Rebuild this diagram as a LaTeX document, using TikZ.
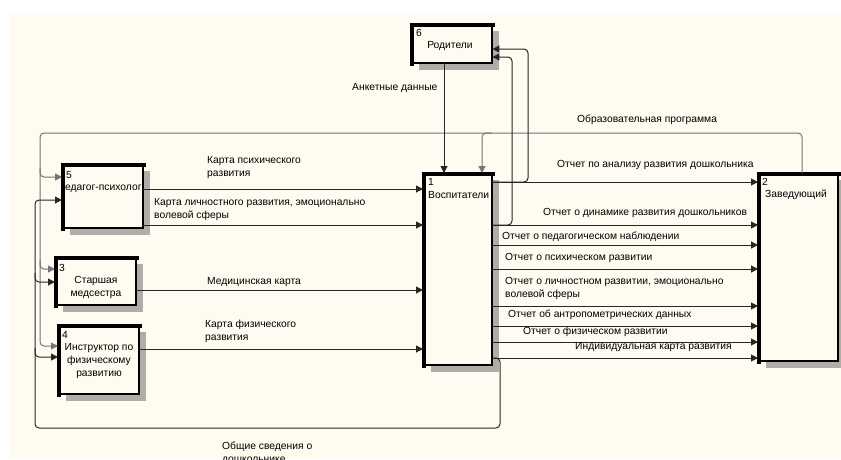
\documentclass[tikz,border=0pt]{standalone}
\usepackage{fontspec}
\setmainfont{Liberation Sans}
\usetikzlibrary{arrows.meta,calc}
\definecolor{bg}{RGB}{255,251,240}
\definecolor{shd}{RGB}{175,173,167}
\tikzset{
  boxnode/.style={draw=none, fill=bg, anchor=north west, inner sep=0pt},
  thinb/.style={draw=black, line width=2pt},
  thickb/.style={draw=black, line width=4.5pt, line cap=rect},
  ln/.style={draw=black!85, line width=1pt},
  arr/.style={ln, -{Triangle[length=7pt,width=7pt]}},
  garr/.style={draw=black!55, line width=1pt, -{Triangle[length=7pt,width=7pt]}},
  lbl/.style={anchor=west, inner sep=0pt, align=left},
  ctr/.style={anchor=center, inner sep=0pt, align=center},
}
\newcommand{\mybox}[5]{% name, x, y, w, h
  \fill[shd] ($(#2,#3)+(8,7)$) rectangle ($(#2,#3)+(#4+7,#5+7)$);
  \node[boxnode, minimum width=#4pt, minimum height=#5pt] (#1) at (#2,#3) {};
  \draw[thinb] (#1.south west) rectangle (#1.north east);
  \draw[thickb] ($(#1.south west)+(1,0)$) -- ($(#1.north west)+(1,1)$) -- ($(#1.north east)+(0,1)$);
}
\begin{document}
\begin{tikzpicture}[x=1pt,y=-1pt,font=\fontsize{10.3}{13}\selectfont]
\useasboundingbox (0,0) rectangle (841,459);
\fill[bg] (10,13) rectangle (841,459);

\mybox{b6}{411}{24}{81}{39}
\mybox{b1}{423}{173}{69}{192}
\mybox{b2}{758}{173}{80}{188}
\mybox{b5}{62}{164}{81}{64}
\mybox{b3}{55}{257}{81}{48}
\mybox{b4}{58}{325}{81}{69}

% box texts
\node[lbl] (n6) at (416,33) {6};
\node[ctr] (t6) at (450,46) {Родители};
\node[lbl] (n1) at (428,182) {1};
\node[lbl] (t1) at (428,195) {Воспитатели};
\node[lbl] (n2) at (762,182) {2};
\node[lbl] (t2) at (765,195) {Заведующий};
\node[lbl] (n5) at (66,175) {5};
\begin{scope}
\clip (b5.south west) rectangle (b5.north east);
\node[lbl] (t5) at (65,189) {едагог-психолог};
\end{scope}
\node[lbl] (n3) at (59,268) {3};
\node[ctr] (t3) at (96,287) {Старшая\\медсестра};
\node[lbl] (n4) at (62,335) {4};
\node[ctr] (t4) at (99,361) {Инструктор по\\физическому\\развитию};

% Образовательная программа
\draw[garr, rounded corners=4pt] (b2.north -| 802,0) -- (802,133) -- (40,133) -- (40,346) -- (b4.west |- 0,346);
\draw[garr, rounded corners=4pt] (40,168) -- (40,177) -- (b5.west |- 0,177);
\draw[garr, rounded corners=4pt] (40,260) -- (40,269) -- (b3.west |- 0,269);
\draw[garr, rounded corners=4pt] (492,133) -- (482,133) -- (b1.north -| 482,0);
\node[lbl] (lop) at (577,120) {Образовательная программа};

% Общие сведения о дошкольнике
\draw[arr, rounded corners=4pt] (b1.east |- 0,358) -- (500,358) -- (500,428) -- (35,428) -- (35,200) -- (b5.west |- 0,200);
\draw[arr, rounded corners=4pt] (35,273) -- (35,282) -- (b3.west |- 0,282);
\draw[arr, rounded corners=4pt] (35,348) -- (35,357) -- (b4.west |- 0,357);
\node[lbl] (los) at (222,453) {Общие сведения о\\дошкольнике};

% Родители
\draw[arr] (b6.south -| 444,0) -- (b1.north -| 444,0);
\node[lbl] (lan) at (352,88) {Анкетные данные};
\draw[arr, rounded corners=4pt] (b1.east |- 0,182) -- (528,182) -- (528,49) -- (b6.east |- 0,49);
\draw[arr, rounded corners=4pt] (b1.east |- 0,225) -- (512,225) -- (512,57) -- (b6.east |- 0,57);

% outputs to Заведующий
\foreach \yy in {182,225,245,269,306,326,342,358}{
  \draw[arr] (b1.east |- 0,\yy) -- (b2.west |- 0,\yy);
}
\node[lbl] (o1) at (557,165) {Отчет по анализу развития дошкольника};
\node[lbl] (o2) at (543,213) {Отчет о динамике развития дошкольников};
\node[lbl] (o3) at (502,237) {Отчет о педагогическом наблюдении};
\node[lbl] (o4) at (505,258) {Отчет о психическом развитии};
\node[lbl] (o5) at (505,288) {Отчет о личностном развитии, эмоционально\\волевой сферы};
\node[lbl] (o6) at (508,315) {Отчет об антропометрических данных};
\node[lbl] (o7) at (523,332) {Отчет о физическом развитии};
\node[lbl] (o8) at (575,347) {Индивидуальная карта развития};

% inputs to Воспитатели
\draw[arr] (b5.east |- 0,189) -- (b1.west |- 0,189);
\draw[arr] (b5.east |- 0,225) -- (b1.west |- 0,225);
\draw[arr] (b3.east |- 0,290) -- (b1.west |- 0,290);
\draw[arr] (b4.east |- 0,349) -- (b1.west |- 0,349);
\node[lbl] (i1) at (207,168) {Карта психического\\развития};
\node[lbl] (i2) at (154,210) {Карта личностного развития, эмоционально\\волевой сферы};
\node[lbl] (i3) at (207,282) {Медицинская карта};
\node[lbl] (i4) at (205,331) {Карта физического\\развития};
\end{tikzpicture}
\end{document}
